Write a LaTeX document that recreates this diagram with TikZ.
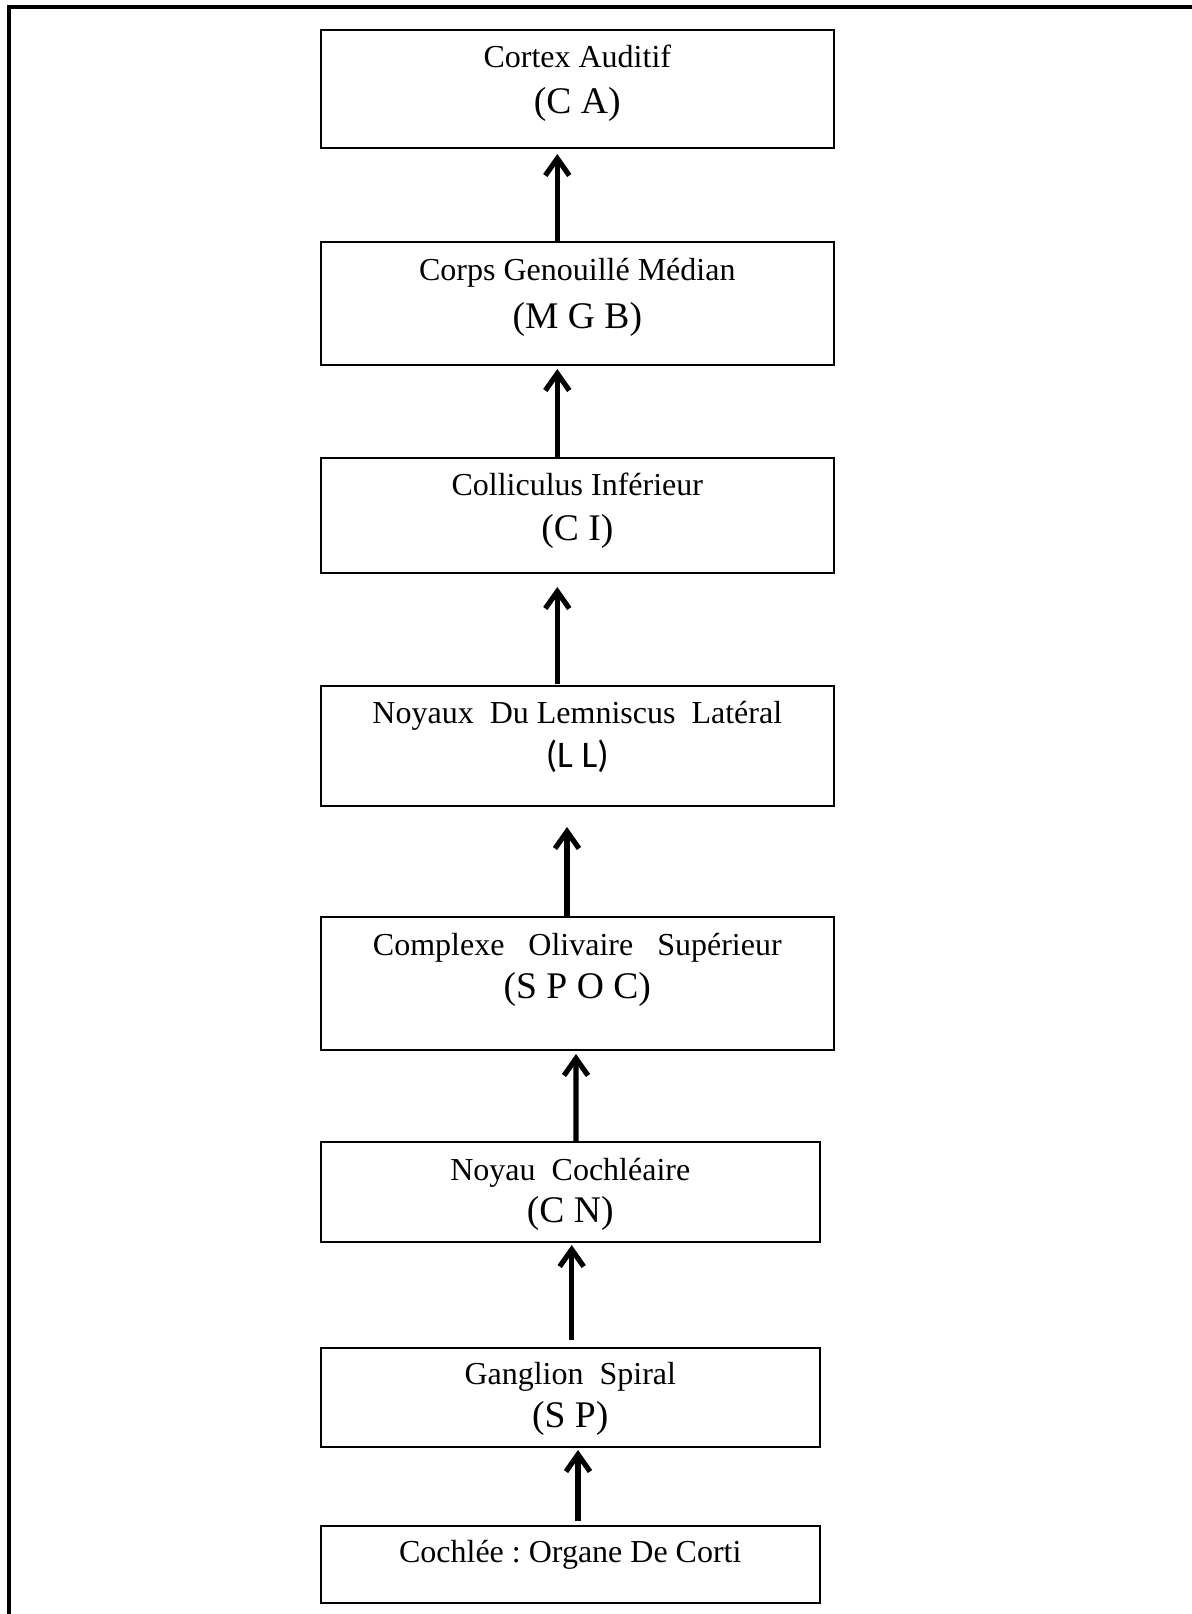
\documentclass[tikz,border=0pt]{standalone}
\usepackage{fontspec}
\setmainfont{Liberation Serif}
\newfontfamily\llfont{Carlito}
\usetikzlibrary{arrows.meta, calc}
\frenchspacing

\begin{document}
\begin{tikzpicture}[
  x=0.5pt, y=-0.5pt,
  stage/.style={draw, line width=1pt, inner sep=0pt, anchor=north west, minimum width=256.7pt},
  narrow/.style={minimum width=249.7pt},
  lbl/.style={anchor=base, inner sep=0pt, font=\fontsize{16}{19}\selectfont},
  abr/.style={anchor=base, inner sep=0pt, font=\fontsize{18.8}{22}\selectfont},
  up/.style={line width=2.6pt, -{Straight Barb[length=8.5pt, width=12pt]}},
  edgeline/.style={line width=2pt}
]
  \useasboundingbox (0,0) rectangle (1192,1614);

  % Frame (top and left only)
  \draw[edgeline] (1192,7) -- (9,7) -- (9,1614);

  % Boxes
  \node[stage, minimum height=59pt] (b1) at (319.6,29) {};
  \node[stage, minimum height=61.5pt] (b2) at (319.6,241) {};
  \node[stage, minimum height=57.5pt] (b3) at (319.6,457) {};
  \node[stage, minimum height=60pt] (b4) at (319.6,685) {};
  \node[stage, minimum height=66.5pt] (b5) at (319.6,916) {};
  \node[stage, narrow, minimum height=50pt] (b6) at (319.6,1141) {};
  \node[stage, narrow, minimum height=49.5pt] (b7) at (319.6,1347) {};
  \node[stage, narrow, minimum height=38.5pt] (b8) at (319.6,1525) {};

  % Labels
  \node[lbl] (n1) at ($(b1.north)+(0,38)$) {Cortex Auditif};
  \node[abr] (a1) at ($(b1.north)+(0,84)$) {(C A)};
  \node[lbl] (n2) at ($(b2.north)+(0,39)$) {Corps Genouillé Médian};
  \node[abr] (a2) at ($(b2.north)+(0,87)$) {(M G B)};
  \node[lbl] (n3) at ($(b3.north)+(0,38)$) {Colliculus Inférieur};
  \node[abr] (a3) at ($(b3.north)+(0,83)$) {(C I)};
  \node[lbl] (n4) at ($(b4.north)+(0,38)$) {Noyaux\ \ Du Lemniscus\ \ Latéral};
  \node[abr] (a4) at ($(b4.north)+(0,82)$) {\llfont (L L)};
  \node[lbl] (n5) at ($(b5.north)+(0,39)$) {Complexe\ \ \ Olivaire\ \ \ Supérieur};
  \node[abr] (a5) at ($(b5.north)+(0,82)$) {(S P O C)};
  \node[lbl] (n6) at ($(b6.north)+(0,39)$) {Noyau\ \ Cochléaire};
  \node[abr] (a6) at ($(b6.north)+(0,81)$) {(C N)};
  \node[lbl] (n7) at ($(b7.north)+(0,37)$) {Ganglion\ \ Spiral};
  \node[abr] (a7) at ($(b7.north)+(0,80)$) {(S P)};
  \node[lbl] (n8) at ($(b8.north)+(0,37)$) {Cochlée : Organe De Corti};

  % Arrows
  \draw[up] ($(b2.north)+(-20,0)$) -- ($(b1.south)+(-20,5)$);
  \draw[up] ($(b3.north)+(-20,0)$) -- ($(b2.south)+(-20,3)$);
  \draw[up] ($(b4.north)+(-20,-1)$) -- ($(b3.south)+(-20,13)$);
  \draw[up] ($(b5.north)+(-10.3,0)$) -- ($(b4.south)+(-10.3,20)$);
  \draw[up] ($(b6.north)+(5.7,0)$) -- ($(b5.south)+(-1.3,3)$);
  \draw[up] ($(b7.north)+(1.4,-7)$) -- ($(b6.south)+(1.4,2)$);
  \draw[up] ($(b8.north)+(7.7,-4)$) -- ($(b7.south)+(7.7,2)$);
\end{tikzpicture}
\end{document}
